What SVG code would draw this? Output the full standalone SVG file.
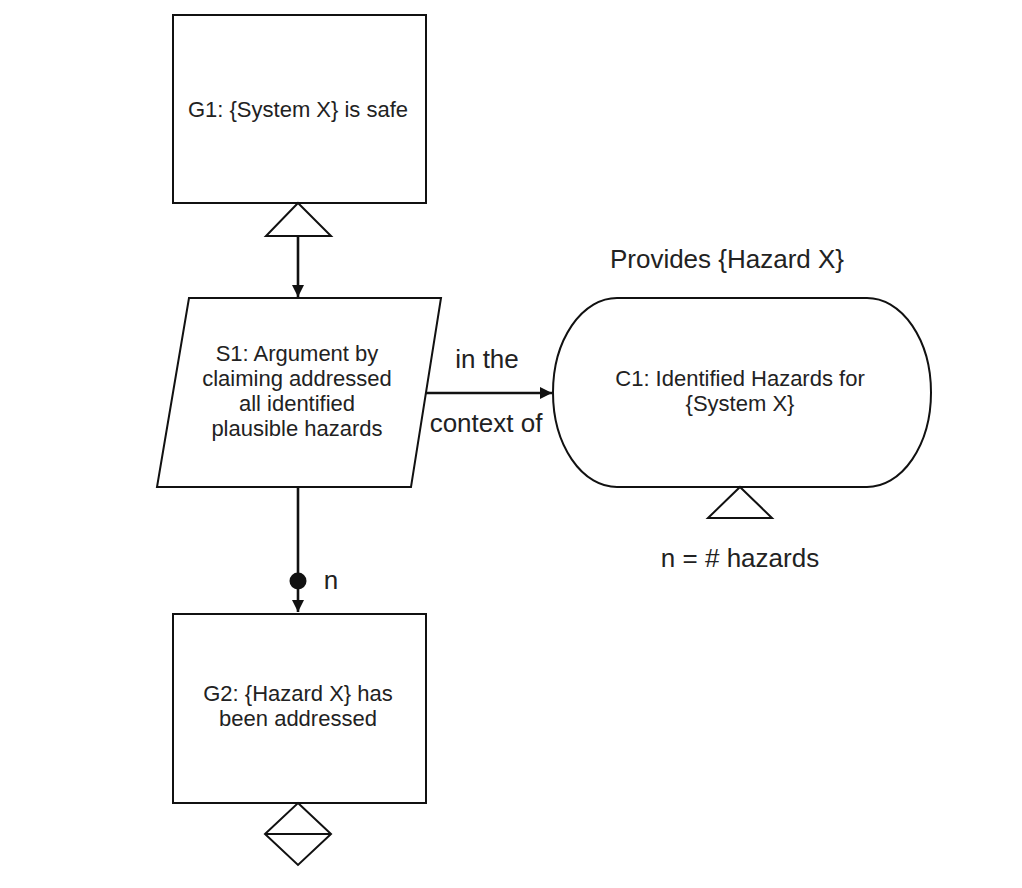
<svg xmlns="http://www.w3.org/2000/svg" width="1022" height="888" viewBox="0 0 1022 888">
<style>
.shape{fill:#fff;stroke:#111;stroke-width:2}
.conn{fill:none;stroke:#111;stroke-width:2.6}
.t{font-family:"Liberation Sans",Arial,sans-serif;font-size:22px;fill:#222;text-anchor:middle}
.tl{font-family:"Liberation Sans",Arial,sans-serif;font-size:26px;fill:#222;text-anchor:middle}
</style>
<defs>
<marker id="ah" viewBox="0 0 10 10" refX="10" refY="5" markerWidth="12" markerHeight="12" markerUnits="userSpaceOnUse" orient="auto">
<path d="M0,0 L10,5 L0,10 Z" fill="#111"/>
</marker>
</defs>
<rect width="1022" height="888" fill="#fff"/>
<g id="G1">
<rect class="shape" x="173" y="15" width="253" height="188"/>
<text class="t" x="298" y="117">G1: {System X} is safe</text>
<polygon class="shape" points="298,203 331,236 266,236"/>
</g>
<g id="S1">
<polygon class="shape" points="189,298 441,298 411,487 157,487"/>
<text class="t" x="297" y="361">S1: Argument by</text>
<text class="t" x="297" y="386">claiming addressed</text>
<text class="t" x="297" y="411">all identified</text>
<text class="t" x="297" y="436">plausible hazards</text>
</g>
<g id="C1">
<text class="tl" x="727" y="268">Provides {Hazard X}</text>
<path class="shape" d="M617,298 L867,298 A64,94.5 0 0 1 867,487 L617,487 A64,94.5 0 0 1 617,298 Z"/>
<text class="t" x="740" y="386">C1: Identified Hazards for</text>
<text class="t" x="740" y="411">{System X}</text>
<polygon class="shape" points="740,487 772,518 708,518"/>
<text class="tl" x="740" y="567">n = # hazards</text>
</g>
<g id="G2">
<rect class="shape" x="173" y="614" width="253" height="189"/>
<text class="t" x="298" y="701">G2: {Hazard X} has</text>
<text class="t" x="298" y="726">been addressed</text>
<polygon class="shape" points="298,803 331,834 298,865 265,834"/>
<line x1="265" y1="834" x2="331" y2="834" stroke="#111" stroke-width="2"/>
</g>
<g id="connectors">
<line class="conn" x1="298" y1="236" x2="298" y2="297" marker-end="url(#ah)"/>
<line class="conn" x1="426" y1="393" x2="552" y2="393" marker-end="url(#ah)"/>
<text class="tl" x="487" y="368">in the</text>
<text class="tl" x="486" y="432">context of</text>
<line class="conn" x1="298" y1="487" x2="298" y2="612" marker-end="url(#ah)"/>
<circle cx="298" cy="581" r="8.5" fill="#111"/>
<text class="tl" x="331" y="589">n</text>
</g>
</svg>
